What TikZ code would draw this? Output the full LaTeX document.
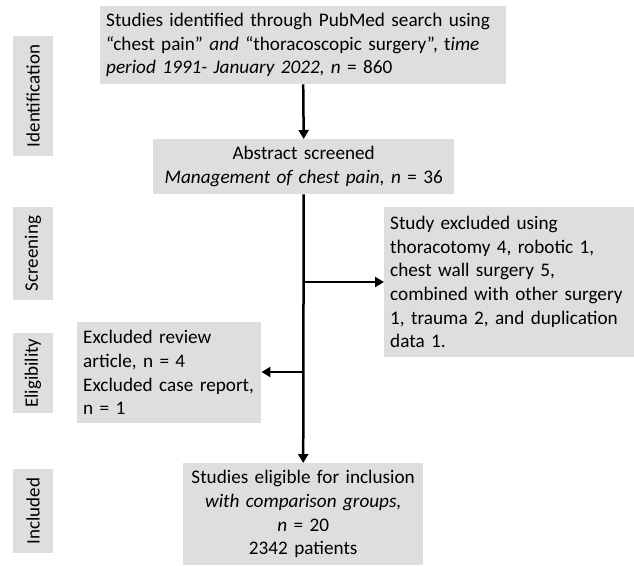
\documentclass[tikz,border=0pt]{standalone}
\usepackage{fontspec}
\setmainfont{Carlito}
\usetikzlibrary{arrows.meta}
\definecolor{boxgray}{RGB}{222,222,222}
\tikzset{
  gbox/.style={fill=boxgray, draw=none, inner sep=0pt, anchor=north west,
     font=\fontsize{19.2}{23.6}\selectfont},
  tab/.style={fill=boxgray, draw=none, inner sep=0pt, rotate=90,
     font=\fontsize{19}{22}\selectfont, minimum height=40pt},
  flow/.style={line width=2.5pt, -{Triangle[length=9pt,width=10pt]}},
}
\begin{document}
\begin{tikzpicture}[x=1pt,y=-1pt]
\useasboundingbox (0,0) rectangle (634,565);
% boxes
\node[gbox, minimum width=406pt, minimum height=78pt, text width=394pt, align=left, inner xsep=6pt] (top) at (100,6)
  {Studies identified through PubMed search using\\
   “chest pain” \textit{and} “thoracoscopic surgery”, t\textit{ime}\\
   \textit{period 1991- January 2022, n} = 860};
\node[gbox, minimum width=301pt, minimum height=55pt, text width=301pt, align=center] (abs) at (153,139)
  {Abstract screened\\ \textit{Management of chest pain, n} = 36};
\node[gbox, minimum width=250pt, minimum height=150pt, text width=238pt, align=left, inner xsep=6pt] (excl) at (384,207)
  {Study excluded using\\ thoracotomy 4, robotic 1,\\ chest wall surgery 5,\\ combined with other surgery\\ 1, trauma 2, and duplication\\ data 1.};
\node[gbox, minimum width=184pt, minimum height=101pt, text width=172pt, align=left, inner xsep=6pt] (rev) at (77,322)
  {Excluded review\\ article, n = 4\\ Excluded case report,\\ n = 1};
\node[gbox, minimum width=240pt, minimum height=102pt, text width=240pt, align=center] (inc) at (183,463)
  {Studies eligible for inclusion\\ \textit{with comparison groups,}\\ \textit{n} = 20\\ 2342 patients};
% tabs
\node[tab, minimum width=120pt] (t1) at (33,96) {Identification};
\node[tab, minimum width=93pt] (t2) at (33,253.5) {Screening};
\node[tab, minimum width=80pt] (t3) at (33,373) {Eligibility};
\node[tab, minimum width=84pt] (t4) at (33,511) {Included};
% connectors
\draw[flow] (top.south) -- (abs.north);
\draw[flow] (abs.south) -- (inc.north);
\coordinate (b1) at (abs.south |- 0,282);
\coordinate (b2) at (abs.south |- 0,372);
\draw[flow] (b1) -- (b1 -| excl.west);
\draw[flow] (b2) -- (b2 -| rev.east);
\end{tikzpicture}
\end{document}
